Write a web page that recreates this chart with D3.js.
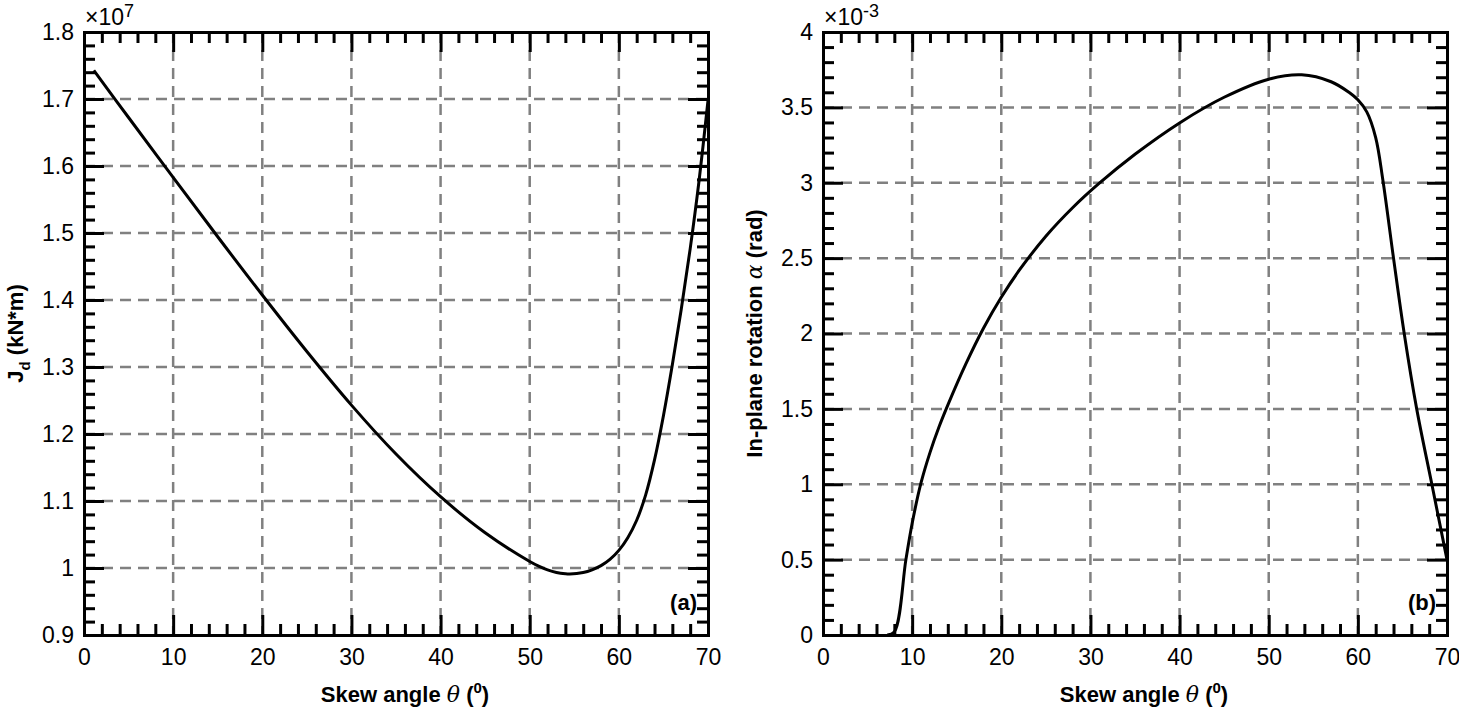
<!DOCTYPE html>
<html>
<head>
<meta charset="utf-8">
<script src="https://cdn.jsdelivr.net/npm/d3@7"></script>
<style>
  body { margin: 0; background: #fff; }
  svg { display: block; font-family: Arial, "Liberation Sans", Helvetica, sans-serif; }
  .tick text { font-size: 23px; fill: #000; }
  .title { font-size: 22px; font-weight: bold; }
</style>
</head>
<body>
<svg id="chart" width="1459" height="712"></svg>
<script>
// panel (a): torsional stiffness Jd (x1e7) vs skew angle
const thetaA = [1.1, 5, 10, 15, 20, 25, 30, 35, 40, 45, 50, 51, 52, 53, 54, 54.5, 56, 57, 58, 59, 60, 61, 62, 63, 64, 65, 66, 67, 68, 69, 70];
const jdA = [1.7426, 1.6724, 1.5829, 1.4944, 1.4074, 1.3231, 1.2431, 1.1701, 1.1064, 1.0526, 1.0096, 1.0027, 0.9972, 0.9933, 0.9913, 0.991, 0.9933, 0.9973, 1.0035, 1.0128, 1.0263, 1.0453, 1.0713, 1.1088, 1.1613, 1.2273, 1.3033, 1.3863, 1.4763, 1.5783, 1.698];

// panel (b): in-plane rotation alpha (x1e-3) vs skew angle
const thetaB = [7.2, 8.0, 9.3, 10, 11, 12, 13, 14, 16, 18, 20, 22, 25, 28, 31, 35, 40, 45, 50, 53.7, 57, 59, 60, 61, 62, 62.8, 64, 65.2, 66.6, 68.3, 70];
const alphaB = [0, 0.02, 0.5, 0.74, 1.01, 1.21, 1.378, 1.525, 1.795, 2.035, 2.24, 2.418, 2.645, 2.834, 2.997, 3.189, 3.397, 3.567, 3.687, 3.716, 3.67, 3.60, 3.55, 3.47, 3.30, 3.02, 2.5, 2.0, 1.5, 1.0, 0.5];

const xTicks = [0, 10, 20, 30, 40, 50, 60, 70];
const yTicksA = [0.9, 1.0, 1.1, 1.2, 1.3, 1.4, 1.5, 1.6, 1.7, 1.8];
const yTicksB = [0, 0.5, 1, 1.5, 2, 2.5, 3, 3.5, 4];

const svg = d3.select("#chart");
const W = 624, H = 603, TOP = 32;

function drawPanel(left, xs, ys, yTicks, yMinorStep, exponent, tag, yTitle) {
  const x = d3.scaleLinear().domain([0, 70]).range([0, W]);
  const y = d3.scaleLinear().domain([yTicks[0], yTicks[yTicks.length - 1]]).range([H, 0]);
  const g = svg.append("g").attr("transform", "translate(" + left + "," + TOP + ")");

  // dashed grid
  const grid = g.append("g").attr("stroke", "#808080").attr("stroke-width", 2.5).attr("stroke-dasharray", "11,7");
  xTicks.slice(1, -1).forEach(function (t) {
    grid.append("line").attr("x1", x(t)).attr("x2", x(t)).attr("y1", 0).attr("y2", H);
  });
  yTicks.slice(1, -1).forEach(function (t) {
    grid.append("line").attr("x1", 0).attr("x2", W).attr("y1", y(t)).attr("y2", y(t));
  });

  // curve
  const line = d3.line().x(function (d) { return x(d[0]); }).y(function (d) { return y(d[1]); })
    .curve(d3.curveCatmullRom.alpha(0.5));
  g.append("path").datum(d3.zip(xs, ys))
    .attr("fill", "none").attr("stroke", "#000").attr("stroke-width", 3)
    .attr("stroke-linejoin", "round")
    .attr("d", line);

  const xMinor = d3.range(0, 70.01, 2).filter(function (v) { return v % 10 !== 0; });
  const yMinor = d3.range(yTicks[0], yTicks[yTicks.length - 1] + 1e-9, yMinorStep)
    .filter(function (v) { return !yTicks.some(function (t) { return Math.abs(t - v) < 1e-6; }); });
  const fmt = function (d) { return String(+d.toFixed(2)); };

  function axis(gen, tx, ty, values, size, labels, pad) {
    const a = g.append("g").attr("transform", "translate(" + tx + "," + ty + ")")
      .call(gen.tickValues(values).tickSizeInner(-size).tickSizeOuter(0).tickPadding(pad || 0)
        .tickFormat(labels ? fmt : ""));
    a.selectAll("line").attr("stroke", "#000").attr("stroke-width", 3);
    a.select(".domain").attr("stroke", "#000").attr("stroke-width", 3).attr("stroke-linecap", "square");
    a.selectAll("text").attr("font-family", null).attr("font-size", null);
    return a;
  }
  axis(d3.axisBottom(x), 0, H, xTicks, 20, true, 14);
  axis(d3.axisBottom(x), 0, H, xMinor, 11, false);
  axis(d3.axisTop(x), 0, 0, xTicks, 20, false);
  axis(d3.axisTop(x), 0, 0, xMinor, 11, false);
  axis(d3.axisLeft(y), 0, 0, yTicks, 20, true, 10);
  axis(d3.axisLeft(y), 0, 0, yMinor, 11, false);
  axis(d3.axisRight(y), W, 0, yTicks, 20, false);
  axis(d3.axisRight(y), W, 0, yMinor, 11, false);

  // exponent label
  const ex = g.append("text").attr("x", 1).attr("y", -7).style("font-size", "23px");
  ex.append("tspan").text("\u00d710");
  ex.append("tspan").style("font-size", "18px").attr("dy", -8).text(exponent);

  // panel tag
  g.append("text").attr("class", "title").attr("x", W - 11).attr("y", H - 25)
    .attr("text-anchor", "end").text(tag);

  // x title
  const xt = g.append("text").attr("class", "title").attr("x", W / 2 + 9).attr("y", H + 67)
    .attr("text-anchor", "middle");
  xt.append("tspan").text("Skew angle ");
  xt.append("tspan").attr("font-style", "italic").attr("font-weight", "normal").attr("font-family", "'DejaVu Serif', serif").text("\u03b8");
  xt.append("tspan").text(" (");
  xt.append("tspan").style("font-size", "15px").attr("dy", -9).text("0");
  xt.append("tspan").attr("dy", 9).text(")");

  // y title
  const yt = g.append("text").attr("class", "title").attr("text-anchor", "middle")
    .attr("transform", "translate(" + (-61) + "," + (H / 2) + ") rotate(-90)");
  yTitle(yt);
}

drawPanel(84, thetaA, jdA, yTicksA, 0.02, "7", "(a)", function (t) {
  t.append("tspan").text("J");
  t.append("tspan").style("font-size", "15px").attr("dy", 7).text("d");
  t.append("tspan").attr("dy", -7).text(" (kN*m)");
});

drawPanel(823, thetaB, alphaB, yTicksB, 0.1, "-3", "(b)", function (t) {
  t.append("tspan").text("In-plane rotation ");
  t.append("tspan").attr("font-style", "italic").attr("font-weight", "normal").attr("font-family", "'DejaVu Serif', serif").text("\u03b1");
  t.append("tspan").text(" (rad)");
});
</script>
</body>
</html>
